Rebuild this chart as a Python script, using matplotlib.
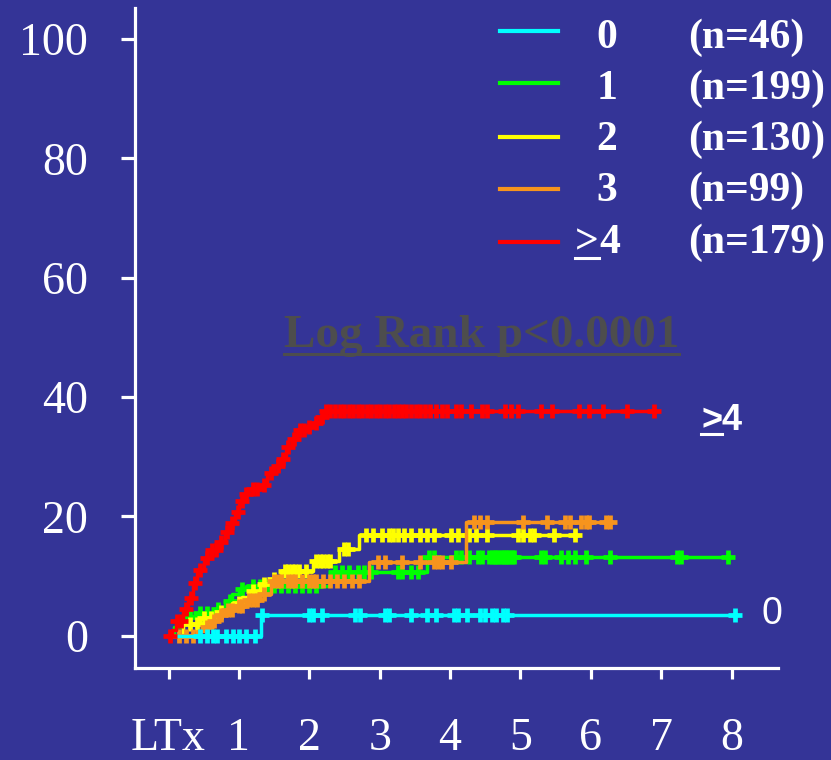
import numpy as np
import matplotlib
matplotlib.use("Agg")
import matplotlib.pyplot as plt
from matplotlib.lines import Line2D

BG = "#343497"
SERIF = "Liberation Serif"
SANS = "Liberation Sans"

# groups
group_labels = ["0", "1", "2", "3", ">4"]
group_n = [46, 199, 130, 99, 179]
group_colors = ["#00ffff", "#00ff00", "#ffff00", "#f7941d", "#ff0000"]

# cumulative incidence (%) step curves: event times (years), values, last follow-up, censored times
t0 = [0.0, 1.32]
y0 = [0.0, 3.5]
end0 = 8.05
cens0 = [0.45, 0.55, 0.63, 0.69, 0.82, 0.91, 1.0, 1.1, 1.23, 1.33, 1.99, 2.05, 2.18, 2.65, 2.72,
         3.07, 3.13, 3.45, 3.67, 3.80, 4.05, 4.11, 4.24, 4.43, 4.50, 4.59, 4.65, 4.75, 4.81, 8.05]

t1 = [0.0, 0.08, 0.18, 0.4, 0.65, 0.8, 0.9, 1.0, 1.1, 2.3, 3.67]
y1 = [0.0, 1.5, 3.2, 3.8, 4.5, 5.8, 7.0, 7.8, 8.3, 10.6, 13.2]
end1 = 7.98
cens1 = [0.3, 0.45, 0.55, 0.7, 0.88, 1.05, 1.2, 1.3, 1.4, 1.5, 1.6, 1.7, 1.8, 1.9, 2.0, 2.1,
         2.37, 2.46, 2.56, 2.69, 2.78, 2.88, 3.26, 3.32, 3.45, 3.55,
         3.70, 3.77, 4.08, 4.15, 4.27, 4.40, 4.46, 4.55, 4.59, 4.62, 4.65, 4.68, 4.72, 4.75,
         4.78, 4.81, 4.84, 4.88, 4.91, 5.29, 5.35, 5.57, 5.67, 5.77, 5.93, 6.27, 7.22, 7.28, 7.95]

t2 = [0.0, 0.2, 0.45, 0.7, 0.9, 1.05, 1.15, 1.3, 1.45, 1.6, 2.05, 2.42, 2.7]
y2 = [0.0, 2.0, 3.0, 4.0, 5.5, 6.5, 7.5, 8.7, 9.5, 10.9, 12.5, 14.6, 16.9]
end2 = 5.8
cens2 = [0.3, 0.4, 0.5, 0.6, 0.75, 1.0, 1.2, 1.35, 1.5, 1.65, 1.7, 1.75, 1.8, 1.85, 1.95,
         2.1, 2.15, 2.2, 2.25, 2.3, 2.5, 2.55,
         2.81, 2.91, 3.03, 3.13, 3.19, 3.26, 3.35, 3.45, 3.57, 3.67, 3.77, 4.02, 4.11,
         4.27, 4.37, 4.52, 4.97, 5.03, 5.13, 5.19, 5.48, 5.77]

t3 = [0.0, 0.4, 0.5, 0.6, 0.7, 0.8, 0.95, 1.1, 1.3, 1.45, 2.85, 4.22]
y3 = [0.0, 0.8, 1.5, 2.5, 3.5, 4.3, 5.0, 6.0, 7.0, 9.2, 12.3, 19.0]
end3 = 6.27
cens3 = [0.15, 0.25, 0.35, 0.55, 0.65, 0.75, 0.85, 0.9, 1.0, 1.05, 1.15, 1.2, 1.25, 1.35,
         1.5, 1.55, 1.6, 1.7, 1.75, 1.8, 1.9, 2.0, 2.05, 2.1, 2.2, 2.3, 2.4, 2.5, 2.6, 2.7,
         2.97, 3.07, 3.32, 3.57, 3.77, 3.83, 3.89, 4.02,
         4.34, 4.43, 4.52, 5.03, 5.38, 5.63, 5.70, 5.86, 5.93, 5.98, 6.21, 6.27]

t4 = [0.0, 0.05, 0.1, 0.2, 0.28, 0.35, 0.4, 0.5, 0.6, 0.7, 0.8, 0.87, 0.95, 1.0, 1.08, 1.13,
      1.3, 1.4, 1.5, 1.58, 1.67, 1.75, 1.83, 1.95, 2.05, 2.15, 2.21]
y4 = [0.0, 1.0, 2.5, 4.5, 6.4, 8.8, 11.0, 13.0, 14.3, 15.7, 17.3, 18.9, 20.8, 22.5, 23.8, 24.6,
      25.3, 27.2, 28.5, 29.6, 31.6, 33.0, 34.5, 35.0, 35.6, 36.6, 37.6]
end4 = 6.90
cens4 = [0.02, 0.12, 0.18, 0.25, 0.32, 0.38, 0.45, 0.55, 0.62, 0.68, 0.75, 0.83, 0.9, 0.98,
         1.05, 1.1, 1.2, 1.25, 1.35, 1.45, 1.55, 1.62, 1.7, 1.78, 1.87, 1.92, 2.0, 2.1, 2.18,
         2.24, 2.3, 2.37, 2.43, 2.5, 2.56, 2.62, 2.69, 2.75, 2.82, 2.88, 2.95, 3.0, 3.07, 3.13,
         3.2, 3.26, 3.32, 3.38, 3.44, 3.52, 3.58, 3.64, 3.72, 3.8, 3.89, 3.95, 4.08, 4.15,
         4.30, 4.46, 4.53, 4.78, 4.87, 4.97, 5.29, 5.45, 5.83, 5.98, 6.17, 6.52, 6.90]

x_ticks = [0, 1, 2, 3, 4, 5, 6, 7, 8]
x_ticklabels = ["LTx", "1", "2", "3", "4", "5", "6", "7", "8"]
y_ticks = [0, 20, 40, 60, 80, 100]

curves = [(t0, y0, end0, cens0), (t1, y1, end1, cens1), (t2, y2, end2, cens2),
          (t3, y3, end3, cens3), (t4, y4, end4, cens4)]
zorders = [4, 1, 2, 3, 5]

fig = plt.figure(figsize=(8.31, 7.6), dpi=100, facecolor=BG)
ax = fig.add_axes([0.1625, 0.1214, 0.7737, 0.8681])
ax.set_facecolor(BG)

for (t, y, end, cens), col, z in zip(curves, group_colors, zorders):
    tt = np.append(t, end)
    yy = np.append(y, y[-1])
    ax.step(tt, yy, where="post", color=col, lw=2.5, zorder=z)
    cens = np.asarray(cens)
    idx = np.searchsorted(t, cens, side="right") - 1
    ax.plot(cens, np.asarray(y)[idx], ls="none", marker="+", ms=10, mew=3.4,
            color=col, zorder=z)

ax.set_xlim(-0.476, 8.66)
ax.set_ylim(-5.37, 105.2)
ax.spines["top"].set_visible(False)
ax.spines["right"].set_visible(False)
for s in ("left", "bottom"):
    ax.spines[s].set_color("white")
    ax.spines[s].set_linewidth(2.3)

ax.set_xticks(x_ticks)
ax.set_xticklabels(x_ticklabels)
ax.set_yticks(y_ticks)
ax.tick_params(axis="x", colors="white", length=8, width=2.3, pad=28,
               labelsize=33)
ax.tick_params(axis="y", colors="white", length=10, width=2.3, pad=24,
               labelsize=33)
for lab in ax.get_xticklabels() + ax.get_yticklabels():
    lab.set_fontfamily(SERIF)

# log rank note
logrank = ax.text(4.45, 48.4, "Log Rank p<0.0001", ha="center", va="baseline",
                  fontsize=34, fontweight="bold", family=SERIF, color="#4d4d4d")

# labels at the right end of curves
right_gt = ax.text(7.57, 34.5, ">", ha="left", va="baseline", fontsize=26,
                   fontweight="bold", family=SANS, color="white")
ax.text(7.86, 34.5, "4", ha="left", va="baseline", fontsize=26,
        fontweight="bold", family=SANS, color="white")
ax.text(8.42, 2.0, "0", ha="left", va="baseline", fontsize=27, family=SANS,
        color="white")

# legend, drawn by hand
W, H = 831.0, 760.0
line_rows = [31, 83, 137, 189, 242]
text_rows = [48, 99, 150, 201, 253]
under = []
for lab, n, col, ly, ty in zip(group_labels, group_n, group_colors, line_rows, text_rows):
    fig.add_artist(Line2D([500 / W, 558 / W], [1 - ly / H, 1 - ly / H], color=col, lw=3,
                          transform=fig.transFigure))
    if lab.startswith(">"):
        g = fig.text(575 / W, 1 - ty / H, ">", ha="left", va="baseline", fontsize=30,
                     fontweight="bold", family=SERIF, color="white")
        fig.text(599 / W, 1 - ty / H, lab[1:], ha="left", va="baseline", fontsize=30,
                 fontweight="bold", family=SERIF, color="white")
        under.append(g)
    else:
        fig.text(617 / W, 1 - ty / H, lab, ha="right", va="baseline", fontsize=30,
                 fontweight="bold", family=SERIF, color="white")
    fig.text(688 / W, 1 - ty / H, "(n=%d)" % n, ha="left", va="baseline", fontsize=30,
             fontweight="bold", family=SERIF, color="white")

# underlines
fig.canvas.draw()
inv = fig.transFigure.inverted()


def underline(txt, gap, lw, color):
    bb = txt.get_window_extent()
    base = txt.get_transform().transform(txt.get_position())[1]
    p0 = inv.transform((bb.x0, base - gap))
    p1 = inv.transform((bb.x1, base - gap))
    fig.add_artist(Line2D([p0[0], p1[0]], [p0[1], p1[1]], color=color, lw=lw,
                          transform=fig.transFigure))


underline(logrank, 7, 2.2, "#4d4d4d")
underline(right_gt, 4, 2.2, "white")
for g in under:
    underline(g, 5, 2.2, "white")

fig.savefig("out.png", dpi=100, facecolor=BG)
